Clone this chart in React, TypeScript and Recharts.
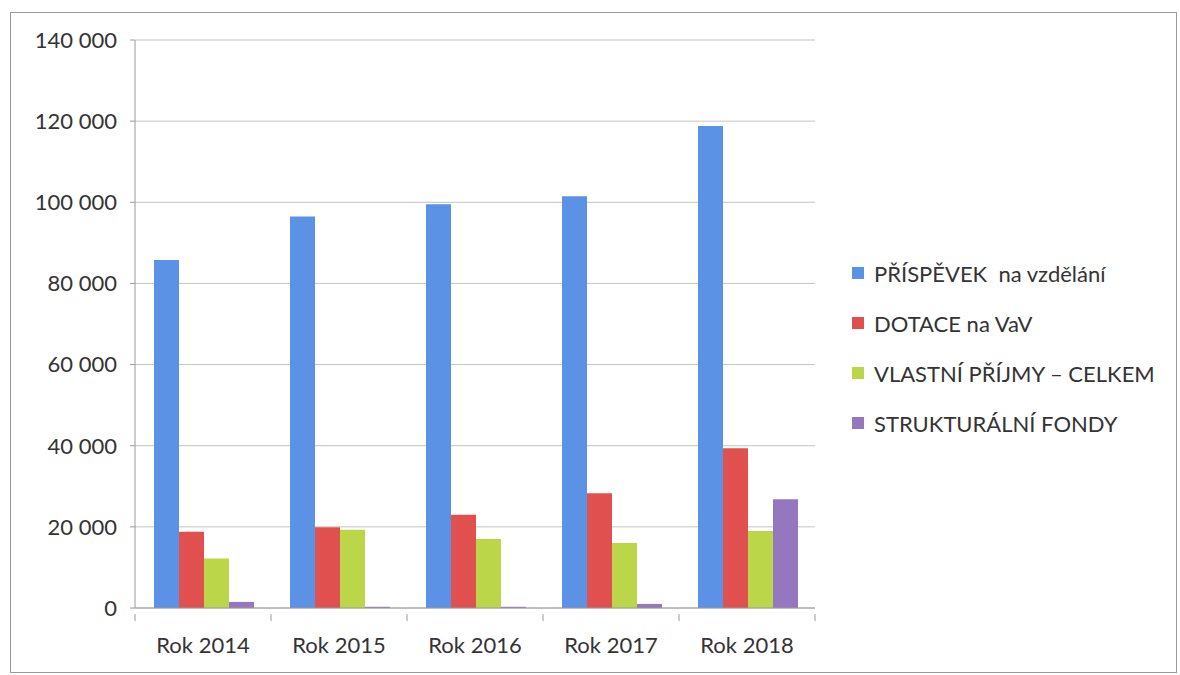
import { BarChart, Bar, XAxis, YAxis, CartesianGrid } from "recharts";

const categories = ["Rok 2014", "Rok 2015", "Rok 2016", "Rok 2017", "Rok 2018"];
const prispevek = [85800, 96500, 99500, 101500, 118800];
const dotace = [18800, 19900, 23000, 28300, 39400];
const vlastni = [12200, 19300, 17000, 16000, 19000];
const strukturalni = [1500, 300, 300, 1000, 26800];
const yTicks = [0, 20000, 40000, 60000, 80000, 100000, 120000, 140000];

const seriesInfo = [
  { key: "prispevek", name: "PŘÍSPĚVEK  na vzdělání", color: "#5b92e5" },
  { key: "dotace", name: "DOTACE na VaV", color: "#e0504f" },
  { key: "vlastni", name: "VLASTNÍ PŘÍJMY – CELKEM", color: "#bcd64a" },
  { key: "strukturalni", name: "STRUKTURÁLNÍ FONDY", color: "#9477be" },
];

const data = categories.map((name, i) => ({
  name,
  prispevek: prispevek[i],
  dotace: dotace[i],
  vlastni: vlastni[i],
  strukturalni: strukturalni[i],
}));

const fmt = (v: number) =>
  v === 0 ? "0" : `${Math.floor(v / 1000)} ${String(v % 1000).padStart(3, "0")}`;

const font = "Lato, 'Open Sans', sans-serif";

// category label plus the Excel-style boundary tick marks
const XTick = ({ x, y, payload, index, visibleTicksCount }: any) => {
  const band = 680 / categories.length;
  const axisY = y - 23;
  const last = index === (visibleTicksCount ?? categories.length) - 1;
  return (
    <g>
      <line x1={x - band / 2} x2={x - band / 2} y1={axisY} y2={axisY + 7} stroke="#9a9a9a" />
      {last && <line x1={x + band / 2} x2={x + band / 2} y1={axisY} y2={axisY + 7} stroke="#9a9a9a" />}
      <text x={x} y={y} dy="0.71em" textAnchor="middle" fill="#333" fontSize={22} fontFamily={font}>
        {payload.value}
      </text>
    </g>
  );
};

const MyLegend = () => (
  <div
    style={{
      position: "absolute",
      left: 852,
      top: 248,
      fontFamily: font,
      fontSize: 22,
      color: "#333",
      whiteSpace: "pre",
    }}
  >
    {seriesInfo.map((s) => (
      <div key={s.key} style={{ display: "flex", alignItems: "center", height: 50 }}>
        <span style={{ width: 12, height: 12, background: s.color, display: "inline-block", marginRight: 10 }} />
        <span>{s.name}</span>
      </div>
    ))}
  </div>
);

export default function App() {
  return (
    <div style={{ position: "absolute", left: 0, top: 0, width: 1180, height: 675, background: "#fff" }}>
      <div
        style={{
          position: "absolute",
          left: 10,
          top: 12,
          width: 1165,
          height: 659,
          border: "1px solid #9a9a9a",
        }}
      />
      <BarChart
        width={1180}
        height={675}
        data={data}
        margin={{ top: 40, right: 365, left: 15, bottom: 37 }}
        barCategoryGap={19}
        barGap={0}
        style={{ fontFamily: font }}
      >
        <CartesianGrid vertical={false} stroke="#c4c4c4" />
        <XAxis
          dataKey="name"
          height={30}
          tickLine={false}
          stroke="#9a9a9a"
          tick={<XTick />}
          tickMargin={23}
        />
        <YAxis
          width={120}
          domain={[0, 140000]}
          ticks={yTicks}
          tickFormatter={fmt}
          tickLine={{ stroke: "#9a9a9a" }}
          tickSize={5}
          stroke="#9a9a9a"
          tick={{ fill: "#333", fontSize: 22 }}
          tickMargin={13}
        />
        {seriesInfo.map((s) => (
          <Bar
            key={s.key}
            dataKey={s.key}
            name={s.name}
            fill={s.color}
            isAnimationActive={false}
          />
        ))}
      </BarChart>
      <MyLegend />
    </div>
  );
}
